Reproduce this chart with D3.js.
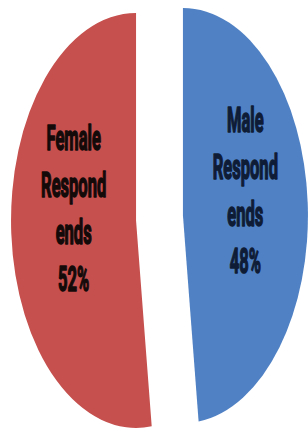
<!DOCTYPE html>
<html><head><meta charset="utf-8">
<script src="https://cdn.jsdelivr.net/npm/d3@7"></script>
<style>html,body{margin:0;padding:0;background:#fff;}</style>
</head><body>
<script>
// ---- data ----
const categories = ["Male", "Female"];
const labelLines = [["Male", "Respond", "ends"], ["Female", "Respond", "ends"]];
const values = [48, 52];
const colors = ["#4f81c4", "#c5504d"];
const textColors = ["#0f1c36", "#140a0a"];

// ---- layout ----
const W = 308, H = 432;
const cx = 159.5, cy = 218, rx = 125, ry = 207.5;
const R = 100;          // base radius before elliptic scaling
const explode = 0.188;  // fraction of radius
const sx = rx / R, sy = ry / R;

const svg = d3.select("body").append("svg").attr("width", W).attr("height", H);

const pie = d3.pie().sort(null).value(d => d).startAngle(0).endAngle(2 * Math.PI);
const arcs = pie(values);
const arc = d3.arc().innerRadius(0).outerRadius(R);

const g = svg.append("g").attr("transform", `translate(${cx},${cy}) scale(${sx},${sy})`);

g.selectAll("path").data(arcs).join("path")
  .attr("d", arc)
  .attr("fill", (d, i) => colors[i])
  .attr("transform", d => {
    const m = (d.startAngle + d.endAngle) / 2;
    return `translate(${explode * R * Math.sin(m)},${-explode * R * Math.cos(m)})`;
  });

// ---- labels ----
const lineGap = 47, firstOff = -77;
arcs.forEach((d, i) => {
  const m = (d.startAngle + d.endAngle) / 2;
  const ox = (explode + 0.5) * R * Math.sin(m) * sx;
  const oy = -(explode + 0.5) * R * Math.cos(m) * sy;
  const ax = cx + ox, ay = cy + oy;
  const lines = labelLines[i].concat([values[i] + "%"]);
  lines.forEach((t, j) => {
    svg.append("text")
      .attr("transform", `translate(${ax},${ay + firstOff + lineGap * j}) scale(0.46,1)`)
      .attr("text-anchor", "middle")
      .attr("font-family", "Roboto, 'Liberation Sans', sans-serif")
      .attr("font-weight", "bold")
      .attr("font-size", 36)
      .attr("fill", textColors[i])
      .attr("stroke", textColors[i])
      .attr("stroke-width", 1.6)
      .attr("stroke-linejoin", "round")
      .text(t);
  });
});
</script>
</body></html>
